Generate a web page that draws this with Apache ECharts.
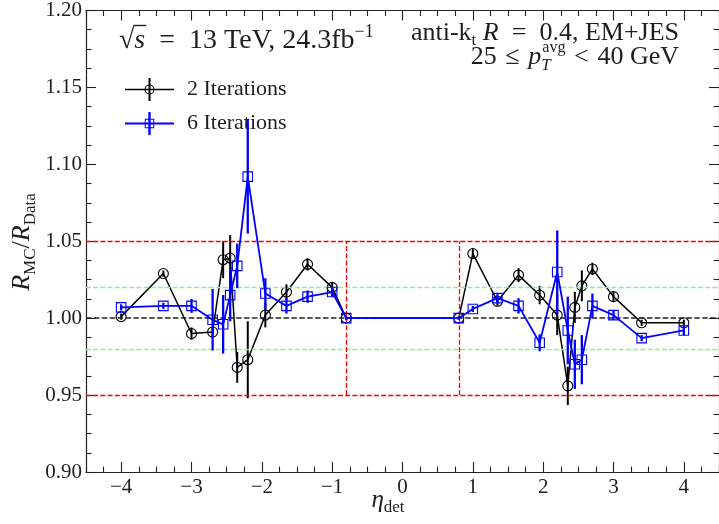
<!DOCTYPE html>
<html><head><meta charset="utf-8">
<script src="https://cdn.jsdelivr.net/npm/echarts@6/dist/echarts.min.js"></script>
<style>html,body{margin:0;padding:0;background:#fff}#c{width:719px;height:524px}</style>
</head><body><div id="c"></div>
<script>
// ---- data ----
const etaBins = [-4.0, -3.4, -3.0, -2.7, -2.55, -2.45, -2.35, -2.2, -1.95, -1.65, -1.35, -1.0, -0.8,
                 0.8, 1.0, 1.35, 1.65, 1.95, 2.2, 2.35, 2.45, 2.55, 2.7, 3.0, 3.4, 4.0];
const iter2 = [1.001, 1.029, 0.990, 0.991, 1.038, 1.039, 0.968, 0.973, 1.002, 1.017, 1.035, 1.020, 1.000,
               1.000, 1.042, 1.011, 1.028, 1.015, 1.002, 0.956, 1.007, 1.021, 1.032, 1.014, 0.997, 0.997];
const iter2Err = [0.002, 0.002, 0.004, 0.003, 0.012, 0.015, 0.010, 0.025, 0.008, 0.005, 0.004, 0.003, 0.001,
                  0.001, 0.003, 0.003, 0.0045, 0.006, 0.013, 0.0125, 0.010, 0.010, 0.004, 0.0035, 0.002, 0.002];
const iter6 = [1.007, 1.008, 1.008, 0.999, 0.996, 1.015, 1.034, 1.092, 1.016, 1.008, 1.014, 1.017, 1.000,
               1.000, 1.006, 1.013, 1.008, 0.984, 1.030, 0.992, 0.970, 0.973, 1.008, 1.002, 0.987, 0.992];
const iter6Err = [0.002, 0.002, 0.0045, 0.020, 0.019, 0.017, 0.0145, 0.037, 0.010, 0.005, 0.004, 0.003, 0.001,
                  0.001, 0.002, 0.003, 0.005, 0.0055, 0.027, 0.022, 0.016, 0.016, 0.008, 0.003, 0.002, 0.003];
const seriesNames = ['2 Iterations', '6 Iterations'];
const xMajorTicks = [-4, -3, -2, -1, 0, 1, 2, 3, 4];
const xMinorTicks = [-4.5, -4.25, -3.75, -3.5, -3.25, -2.75, -2.5, -2.25, -1.75, -1.5, -1.25, -0.75, -0.5, -0.25,
                     0.25, 0.5, 0.75, 1.25, 1.5, 1.75, 2.25, 2.5, 2.75, 3.25, 3.5, 3.75, 4.25, 4.5];
const yRange = [0.90, 1.20];
const yTickStep = 0.05;
const refUnity = 1.00;
const refGreen = [0.98, 1.02];
const refRed = [0.95, 1.05];
const refRedEta = [-0.8, 0.8];

// ---- styling ----
const FONT = '"Liberation Serif", "Times New Roman", serif';
const TXT = '#1e1e1e';
const mctx = document.createElement('canvas').getContext('2d');
function measure(t, size, italic) {
  mctx.font = (italic ? 'italic ' : '') + size + 'px ' + FONT;
  return mctx.measureText(t).width;
}
function txt(t, x, base, size, italic) {
  return { type: 'text', x: x, y: base - 0.34 * size, silent: true,
    style: { text: t, fontSize: size, fontFamily: FONT, fontStyle: italic ? 'italic' : 'normal',
             fill: TXT, align: 'left', verticalAlign: 'middle' } };
}
// build a run of text pieces on a common baseline (y=0)
function run(list) {
  let x = 0; const children = []; const marks = [];
  list.forEach(p => {
    if (p.stack) {
      let w = 0;
      p.stack.forEach(q => { children.push(txt(q.t, x + (q.dx || 0), q.dy || 0, q.size, q.italic)); w = Math.max(w, measure(q.t, q.size, q.italic) + (q.dx || 0)); });
      x += w;
    } else {
      const w = measure(p.t, p.size, p.italic);
      children.push(txt(p.t, x, p.dy || 0, p.size, p.italic));
      marks.push([x, x + w]);
      x += w;
    }
  });
  return { children, width: x, marks };
}
const EN = '\u2002', TH = '\u2004';

// annotation 1: sqrt(s) = 13 TeV, 24.3 fb^-1
const a1 = run([
  { t: '\u221A', size: 28 },
  { t: 's', size: 28, italic: true },
  { t: EN + '=' + EN + '13 TeV, 24.3fb', size: 28 },
  { t: '\u22121', size: 18, dy: -12 }
]);
a1.children.push({ type: 'line', silent: true,
  shape: { x1: a1.marks[0][1] - 1, y1: -24.5, x2: a1.marks[1][1] + 1, y2: -24.5 },
  style: { stroke: TXT, lineWidth: 1.4 } });
// annotation 2
const a2 = run([
  { t: 'anti-k', size: 26 },
  { t: 't', size: 17, dy: 4 },
  { t: ' ', size: 26 },
  { t: 'R', size: 26, italic: true },
  { t: EN + '=' + EN + '0.4, EM+JES', size: 26 }
]);
// annotation 3
const a3 = run([
  { t: '25' + TH + '\u2264' + TH, size: 26 },
  { t: 'p', size: 26, italic: true },
  { stack: [ { t: 'avg', size: 16, dy: -13, dx: 1 }, { t: 'T', size: 17, italic: true, dy: 5 } ] },
  { t: TH + '<' + TH + '40 GeV', size: 26 }
]);
// y axis title
const yt = run([
  { t: 'R', size: 26, italic: true },
  { t: 'MC', size: 17, dy: 5 },
  { t: '/', size: 26 },
  { t: 'R', size: 26, italic: true },
  { t: 'Data', size: 17, dy: 5 }
]);
// x axis title
const xt = run([
  { t: '\u03B7', size: 25, italic: true },
  { t: 'det', size: 17, dy: 4 }
]);

// legend icons (line + marker + vertical error bar)
const ICON2 = 'path://M0 10.75H49V12.25H0Z M23.5 0H25.5V23H23.5Z ' +
  'M19.5 11.5A5 5 0 1 1 29.5 11.5A5 5 0 1 1 19.5 11.5Z M20.6 11.5A3.9 3.9 0 1 0 28.4 11.5A3.9 3.9 0 1 0 20.6 11.5Z';
const ICON6 = 'path://M0 10.5H49V12.5H0Z M23.3 0H25.7V23H23.3Z ' +
  'M19.75 6.75H29.25V16.25H19.75Z M20.75 7.75V15.25H28.25V7.75Z';

function errSeries(name, vals, errs, color, width, z) {
  return {
    type: 'custom', name: name, z: z, silent: true, animation: false,
    data: etaBins.map((x, i) => [x, vals[i] - errs[i], vals[i] + errs[i]]),
    encode: { x: 0, y: [1, 2] },
    renderItem: (params, api) => {
      const p1 = api.coord([api.value(0), api.value(1)]);
      const p2 = api.coord([api.value(0), api.value(2)]);
      return { type: 'line', shape: { x1: p1[0], y1: p1[1], x2: p2[0], y2: p2[1] },
               style: { stroke: color, lineWidth: width } };
    }
  };
}
function lineSeries(name, vals, color, width, symbol, size, z) {
  return {
    type: 'line', name: name, z: z, animation: false, silent: true,
    data: etaBins.map((x, i) => [x, vals[i]]),
    symbol: symbol, symbolSize: size, showSymbol: true,
    lineStyle: { color: color, width: width },
    itemStyle: { color: 'rgba(0,0,0,0)', borderColor: color, borderWidth: 1.1 },
    emphasis: { disabled: true }
  };
}

const tickFont = { fontFamily: FONT, fontSize: 21, color: TXT };
const axisLineStyle = { color: '#222', width: 1.2 };
function xAxisDef(position, major, showLine, showLabel) {
  return {
    type: 'value', position: position, min: -4.5, max: 4.5,
    axisLine: { show: showLine, onZero: false, lineStyle: axisLineStyle },
    axisTick: { show: true, inside: true, length: major ? 10 : 5.5, customValues: major ? xMajorTicks : xMinorTicks,
                lineStyle: { color: '#222', width: 1.1 } },
    axisLabel: showLabel ? Object.assign({ show: true, margin: 5, customValues: xMajorTicks,
                formatter: v => (v < 0 ? '\u2212' + Math.abs(Math.round(v)) : String(Math.round(v))) }, tickFont)
              : { show: false },
    splitLine: { show: false }
  };
}
function yAxisDef(position, showLabel) {
  return {
    type: 'value', position: position, min: yRange[0], max: yRange[1], interval: yTickStep,
    axisLine: { show: true, onZero: false, lineStyle: axisLineStyle },
    axisTick: { show: true, inside: true, length: 10, lineStyle: { color: '#222', width: 1.1 } },
    minorTick: { show: true, splitNumber: 4, length: 5.5, lineStyle: { color: '#222', width: 1.1 } },
    axisLabel: showLabel ? Object.assign({ show: true, margin: 4, formatter: v => v.toFixed(2) }, tickFont) : { show: false },
    splitLine: { show: false }, minorSplitLine: { show: false }
  };
}

const red = '#ff0000', green = '#90ee90';
const dashRef = [5, 2.2];
const refLines = [
  { yAxis: refGreen[0], lineStyle: { color: green, type: dashRef, width: 1.4 } },
  { yAxis: refGreen[1], lineStyle: { color: green, type: dashRef, width: 1.4 } },
  { yAxis: refRed[0], lineStyle: { color: red, type: dashRef, width: 1.3 } },
  { yAxis: refRed[1], lineStyle: { color: red, type: dashRef, width: 1.3 } },
  [{ coord: [refRedEta[0], refRed[0]], lineStyle: { color: red, type: dashRef, width: 1.3 } }, { coord: [refRedEta[0], refRed[1]] }],
  [{ coord: [refRedEta[1], refRed[0]], lineStyle: { color: red, type: dashRef, width: 1.3 } }, { coord: [refRedEta[1], refRed[1]] }],
  { yAxis: refUnity, lineStyle: { color: '#222', type: [5.5, 2.4], width: 1.5 } }
];

const chart = echarts.init(document.getElementById('c'), null, { renderer: 'canvas' });
chart.setOption({
  animation: false,
  backgroundColor: '#fff',
  grid: { left: 86, right: -4, top: 7, bottom: 52, containLabel: false },
  xAxis: [xAxisDef('bottom', true, true, true), xAxisDef('bottom', false, false, false),
          xAxisDef('top', true, true, false), xAxisDef('top', false, false, false)],
  yAxis: [yAxisDef('left', true), yAxisDef('right', false)],
  legend: {
    orient: 'vertical', left: 120, top: 73, itemWidth: 49, itemHeight: 23, itemGap: 11,
    selectedMode: false,
    textStyle: { fontFamily: FONT, fontSize: 22, color: TXT, padding: [0, 0, 0, 8] },
    data: [
      { name: seriesNames[0], icon: ICON2, itemStyle: { color: '#000', borderWidth: 0, opacity: 1 } },
      { name: seriesNames[1], icon: ICON6, itemStyle: { color: '#0000ff', borderWidth: 0, opacity: 1 } }
    ]
  },
  series: [
    { type: 'line', name: 'ref', data: [], silent: true, z: 1,
      markLine: { silent: true, animation: false, symbol: ['none', 'none'], label: { show: false },
                  emphasis: { disabled: true }, data: refLines } },
    errSeries('err2', iter2, iter2Err, '#000', 2, 3),
    lineSeries(seriesNames[0], iter2, '#000', 1.5, 'circle', 10, 4),
    errSeries('err6', iter6, iter6Err, '#0000ff', 2.3, 5),
    lineSeries(seriesNames[1], iter6, '#0000ff', 1.8, 'rect', 9.5, 6)
  ],
  graphic: [
    { type: 'group', x: 119, y: 50, children: a1.children },
    { type: 'group', x: 679 - a2.width, y: 42, children: a2.children },
    { type: 'group', x: 679 - a3.width, y: 66, children: a3.children },
    { type: 'group', x: 31, y: 242 + yt.width / 2, rotation: Math.PI / 2, children: yt.children },
    { type: 'group', x: 388 - xt.width / 2, y: 509, children: xt.children }
  ]
});
</script></body></html>
